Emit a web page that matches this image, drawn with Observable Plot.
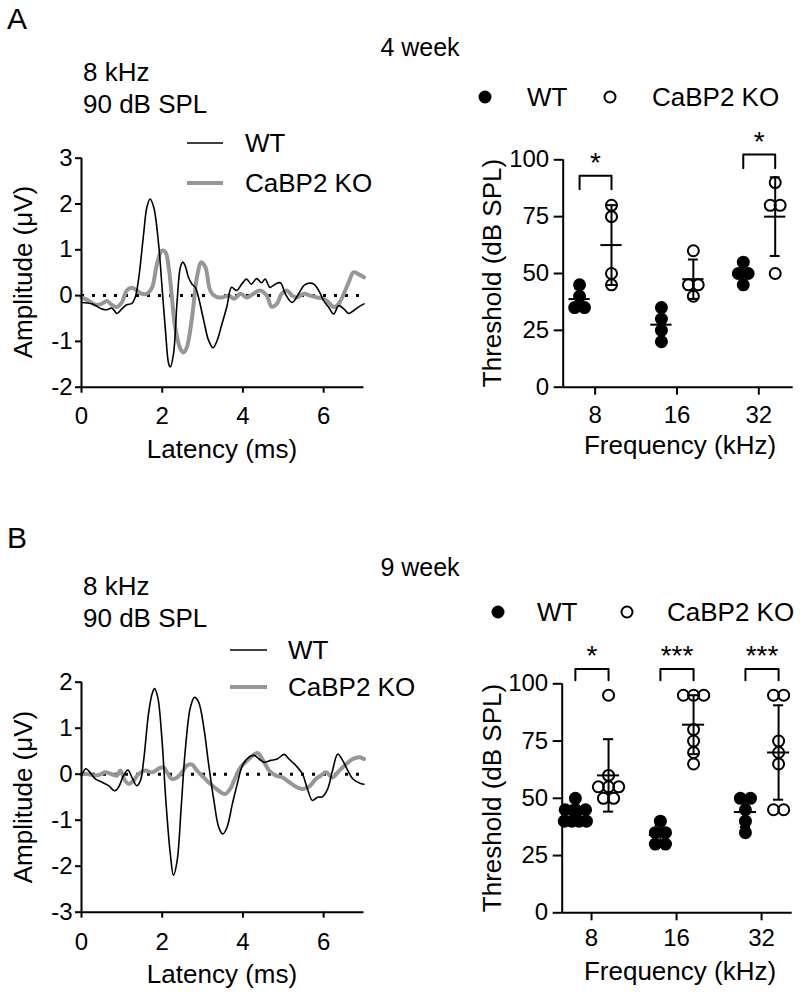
<!DOCTYPE html>
<html><head><meta charset="utf-8">
<script src="https://cdn.jsdelivr.net/npm/d3@7"></script>
<script src="https://cdn.jsdelivr.net/npm/@observablehq/plot@0.6"></script>
<style>
body{margin:0;background:#fff;}
#fig{position:relative;width:800px;height:997px;overflow:hidden;background:#fff;}
#fig svg{position:absolute;}
</style></head><body><div id="fig"></div>
<script>
const FONT = '"Liberation Sans", Arial, Helvetica, sans-serif';

// ---------- data ----------
const panelLetters = ["A", "B"];
const ages = ["4 week", "9 week"];
const stimulus = ["8 kHz", "90 dB SPL"];
const genotypes = ["WT", "CaBP2 KO"];
const freqs = ["8", "16", "32"];
const ampTicksA = [-2, -1, 0, 1, 2, 3];
const ampTicksB = [-3, -2, -1, 0, 1, 2];
const latTicks = [0, 2, 4, 6];
const thrTicks = [0, 25, 50, 75, 100];

// ABR waveforms [latency ms, amplitude µV]
const wave4WT = [[0,-0.15],[0.26,-0.18],[0.5,-0.29],[0.63,-0.31],[0.75,-0.27],[0.88,-0.39],[1.0,-0.29],[1.12,-0.2],[1.25,-0.17],[1.33,-0.04],[1.41,0.33],[1.54,1.35],[1.62,1.93],[1.70,2.11],[1.79,1.93],[1.91,1.13],[1.99,0.25],[2.08,-0.76],[2.16,-1.49],[2.2,-1.56],[2.28,-1.27],[2.37,-0.11],[2.45,0.62],[2.51,0.73],[2.57,0.65],[2.65,0.4],[2.74,0.25],[2.82,0.18],[2.9,-0.04],[3.03,-0.55],[3.15,-0.98],[3.26,-1.14],[3.36,-0.98],[3.48,-0.62],[3.6,-0.25],[3.72,0.18],[3.84,0.11],[3.97,0.25],[4.09,0.36],[4.21,0.25],[4.34,0.37],[4.46,0.28],[4.55,0.36],[4.67,0.18],[4.8,0.25],[4.93,0.28],[5.05,0.04],[5.22,-0.15],[5.38,0.04],[5.51,0.22],[5.63,0.27],[5.76,0.25],[5.88,0.11],[6.0,-0.11],[6.12,-0.25],[6.25,-0.4],[6.37,-0.22],[6.5,-0.29],[6.62,-0.39],[6.74,-0.33],[6.86,-0.25],[7.0,-0.18]];
const wave4KO = [[0,-0.04],[0.17,-0.11],[0.34,-0.2],[0.5,-0.18],[0.63,-0.12],[0.75,-0.2],[0.88,-0.25],[1.0,-0.15],[1.12,0.11],[1.25,0.17],[1.37,0.11],[1.5,0.04],[1.62,0.04],[1.75,0.18],[1.87,0.69],[1.99,0.98],[2.08,0.95],[2.16,0.62],[2.24,-0.04],[2.32,-0.69],[2.45,-1.16],[2.53,-1.24],[2.61,-1.13],[2.74,-0.47],[2.86,0.4],[2.97,0.73],[3.07,0.62],[3.19,0.11],[3.32,-0.02],[3.48,-0.04],[3.65,0],[3.78,-0.07],[3.94,0.04],[4.09,-0.04],[4.26,0.04],[4.42,0.11],[4.59,0],[4.71,-0.24],[4.84,-0.18],[4.96,0.04],[5.09,0.11],[5.22,0],[5.34,-0.04],[5.51,0.04],[5.67,0],[5.84,-0.04],[6.0,-0.07],[6.12,-0.15],[6.25,-0.25],[6.37,-0.18],[6.5,0.04],[6.62,0.29],[6.74,0.51],[6.86,0.47],[7.0,0.4]];
const wave9WT = [[0,-0.03],[0.11,0.12],[0.21,0.04],[0.34,-0.1],[0.5,-0.17],[0.67,-0.25],[0.82,-0.36],[0.92,-0.28],[1.04,-0.03],[1.15,0.09],[1.25,-0.07],[1.37,-0.25],[1.46,-0.14],[1.54,0.3],[1.66,1.31],[1.75,1.75],[1.81,1.86],[1.89,1.67],[1.99,0.8],[2.09,-0.57],[2.2,-1.73],[2.28,-2.2],[2.37,-1.88],[2.47,-0.72],[2.57,0.51],[2.7,1.46],[2.8,1.67],[2.9,1.57],[3.03,1.02],[3.15,0.22],[3.28,-0.57],[3.4,-1.15],[3.5,-1.3],[3.6,-1.17],[3.74,-0.64],[3.86,-0.21],[3.99,0.19],[4.15,0.37],[4.28,0.41],[4.4,0.33],[4.52,0.26],[4.69,0.3],[4.85,0.33],[5.02,0.43],[5.14,0.33],[5.31,0.19],[5.47,0.01],[5.6,-0.32],[5.72,-0.57],[5.85,-0.5],[5.97,-0.49],[6.1,-0.32],[6.22,0.08],[6.35,0.44],[6.47,0.3],[6.6,0.08],[6.72,-0.1],[6.93,-0.21],[7.0,-0.22]];
const wave9KO = [[0,0],[0.17,0],[0.34,-0.03],[0.46,-0.01],[0.58,0.04],[0.75,0],[0.88,-0.03],[0.96,0.08],[1.08,-0.14],[1.17,-0.21],[1.29,-0.14],[1.41,0],[1.58,0.08],[1.75,0.04],[1.91,0.12],[2.03,0.15],[2.12,0.04],[2.24,-0.1],[2.37,-0.07],[2.49,0.04],[2.61,0.19],[2.74,0.21],[2.86,0.08],[3.03,-0.07],[3.19,-0.21],[3.4,-0.36],[3.56,-0.43],[3.7,-0.3],[3.78,-0.14],[3.94,0.15],[4.11,0.3],[4.36,0.46],[4.48,0.33],[4.65,0.08],[4.82,-0.03],[4.98,-0.07],[5.14,-0.17],[5.31,-0.27],[5.47,-0.32],[5.64,-0.27],[5.81,-0.1],[5.93,-0.03],[6.06,0.04],[6.22,-0.07],[6.39,0.08],[6.56,0.22],[6.72,0.33],[6.89,0.37],[7.0,0.33]];

// ABR thresholds (dB SPL), one list per frequency (8, 16, 32 kHz)
const thr4WT = [[45,40,35,35],[35,30,25,20],[55,50,50,45]];
const thr4KO = [[80,75,50,45],[60,45,45,40],[90,80,80,50]];
const thr9WT = [[50,45,45,45,40,40,40,40],[40,35,35,30,30],[50,50,45,40,35]];
const thr9KO = [[95,60,55,55,55,50,50],[95,95,95,80,75,70,65],[95,95,75,70,65,45,45]];

// significance (per frequency) and bracket level (dB SPL)
const sig4 = ["*", "", "*"];
const sig4Level = [93, null, 102.3];
const sig9 = ["*", "***", "***"];
const sig9Level = [106.5, 106.5, 106.5];

// ---------- helpers ----------
const OFF = [-0.19, 0.2];
const fig = document.getElementById("fig");
const baseStyle = {fontFamily: FONT, fontSize: "24px", color: "black", background: "none", overflow: "visible"};

function place(svg, left, top) {
  svg.style.left = left + "px";
  svg.style.top = top + "px";
  fig.appendChild(svg);
}

function wavePlot(wt, ko, ticks, ydom, geo) {
  return Plot.plot({
    width: 400, height: geo.h,
    marginLeft: 81, marginRight: 36.5, marginTop: geo.mt, marginBottom: geo.mb,
    x: {domain: [0, 7], axis: null},
    y: {domain: ydom, axis: null},
    style: baseStyle,
    marks: [
      Plot.ruleY([0], {stroke: "black", strokeWidth: 3, strokeDasharray: "3,8"}),
      Plot.line(ko, {x: d => d[0], y: d => d[1], stroke: "#979797", strokeWidth: 4, curve: "catmull-rom"}),
      Plot.line(wt, {x: d => d[0], y: d => d[1], stroke: "black", strokeWidth: 1.6, curve: "catmull-rom"}),
      Plot.ruleX([0], {strokeWidth: 2}),
      Plot.ruleY([ydom[0]], {strokeWidth: 2}),
      Plot.axisY({ticks, tickSize: 6, tickPadding: 3, strokeWidth: 2, fontSize: 24, tickFormat: d => String(d), label: null}),
      Plot.axisX({ticks: latTicks, tickSize: 6, tickPadding: geo.xpad, strokeWidth: 2, fontSize: 24, tickFormat: d => String(d), label: null})
    ]
  });
}

function threshPlot(wt, ko, sig, sigLevel, geo) {
  const pts = [];
  const stats = [];
  [wt, ko].forEach((grp, g) => grp.forEach((vals, i) => {
    const counts = d3.rollup(vals, v => v.length, v => v);
    const seen = new Map();
    vals.forEach(v => {
      const n = counts.get(v), k = seen.get(v) || 0;
      seen.set(v, k + 1);
      const step = Math.min(0.12, 0.26 / Math.max(1, n - 1));
      pts.push({g, i, v, x: i + OFF[g] + (k - (n - 1) / 2) * step});
    });
    const m = d3.mean(vals), s = d3.deviation(vals);
    stats.push({g, i, x: i + OFF[g], m, lo: m - s, hi: m + s});
  }));
  const br = [], stars = [];
  sig.forEach((s, i) => {
    if (!s) return;
    const L = sigLevel[i];
    br.push({i, x: i + OFF[0], y: L - geo.drop}, {i, x: i + OFF[0], y: L}, {i, x: i + OFF[1], y: L}, {i, x: i + OFF[1], y: L - geo.drop});
    stars.push({i, s, x: i + (OFF[0] + OFF[1]) / 2, y: L + 5.7});
  });
  const CAP = 0.06, MEAN = 0.13;
  return Plot.plot({
    width: 400, height: geo.h,
    marginLeft: geo.ml, marginRight: geo.mr, marginTop: geo.mt, marginBottom: geo.mb,
    x: {domain: geo.xdom, axis: null},
    y: {domain: [0, 100], axis: null},
    style: baseStyle,
    marks: [
      Plot.ruleX([geo.xdom[0]], {strokeWidth: 2}),
      Plot.ruleY([0], {strokeWidth: 2}),
      Plot.axisY({ticks: thrTicks, tickSize: 9, tickPadding: 5, strokeWidth: 2, fontSize: 24, tickFormat: d => String(d), label: null}),
      Plot.axisX({ticks: [0, 1, 2], tickSize: 8, tickPadding: geo.xpad, strokeWidth: 2, fontSize: 24, tickFormat: i => freqs[i], label: null}),
      Plot.dot(pts, {x: "x", y: "v", r: 5.5, fill: d => d.g ? "none" : "black", stroke: "black", strokeWidth: 2}),
      Plot.ruleX(stats, {x: "x", y1: "lo", y2: "hi", strokeWidth: 2}),
      Plot.ruleY(stats, {y: "lo", x1: d => d.x - CAP, x2: d => d.x + CAP, strokeWidth: 2}),
      Plot.ruleY(stats, {y: "hi", x1: d => d.x - CAP, x2: d => d.x + CAP, strokeWidth: 2}),
      Plot.ruleY(stats, {y: "m", x1: d => d.x - MEAN, x2: d => d.x + MEAN, strokeWidth: 2}),
      Plot.line(br, {x: "x", y: "y", z: "i", stroke: "black", strokeWidth: 2}),
      Plot.text(stars, {x: "x", y: "y", text: "s", fontSize: 28, fill: "black"})
    ]
  });
}

// ---------- plots ----------
place(wavePlot(wave4WT, wave4KO, ampTicksA, [-2, 3], {h: 360, mt: 37.7, mb: 93.3, xpad: 14}), 0, 120);
place(threshPlot(thr4WT, thr4KO, sig4, sig4Level, {h: 360, ml: 162.7, mr: 7.3, mt: 39.3, mb: 93.3, xdom: [-0.39, 2.42], xpad: 11, drop: 6}), 400, 120);
place(wavePlot(wave9WT, wave9KO, ampTicksB, [-3, 2], {h: 357, mt: 41.7, mb: 85.3, xpad: 15}), 0, 640);
place(threshPlot(thr9WT, thr9KO, sig9, sig9Level, {h: 357, ml: 161.7, mr: 8.3, mt: 43.3, mb: 84.7, xdom: [-0.345, 2.36], xpad: 8, drop: 5}), 400, 640);

// ---------- text, titles and legends ----------
const ov = d3.select(fig).append("svg")
  .attr("width", 800).attr("height", 997)
  .style("left", "0px").style("top", "0px")
  .style("font-family", FONT);

function txt(s, x, y, size, anchor = "start", rot = false) {
  const t = ov.append("text").text(s)
    .attr("font-size", size).attr("text-anchor", anchor).attr("dy", "0.35em").attr("fill", "black");
  if (rot) t.attr("transform", `translate(${x},${y}) rotate(-90)`);
  else t.attr("x", x).attr("y", y);
}
function legLine(x1, x2, y, color, w) {
  ov.append("line").attr("x1", x1).attr("x2", x2).attr("y1", y).attr("y2", y).attr("stroke", color).attr("stroke-width", w);
}
function legDot(x, y, filled) {
  ov.append("circle").attr("cx", x).attr("cy", y).attr("r", 5.5)
    .attr("fill", filled ? "black" : "white").attr("stroke", "black").attr("stroke-width", 2);
}

// panel A
txt(panelLetters[0], 7, 18, 30);
txt(ages[0], 420, 47, 25, "middle");
txt(stimulus[0], 83, 72, 26);
txt(stimulus[1], 83, 104, 26);
legLine(187, 223, 143, "black", 1.6);
legLine(187, 223, 183, "#979797", 4);
txt(genotypes[0], 245, 143, 26);
txt(genotypes[1], 245, 183, 26);
legDot(485, 97, true);
legDot(610, 97, false);
txt(genotypes[0], 527, 97, 26);
txt(genotypes[1], 652, 97, 26);
txt("Latency (ms)", 222, 449, 26, "middle");
txt("Amplitude (μV)", 23, 272, 26, "middle", true);
txt("Frequency (kHz)", 680, 445, 26, "middle");
txt("Threshold (dB SPL)", 492, 273, 26, "middle", true);

// panel B
txt(panelLetters[1], 7, 537, 30);
txt(ages[1], 420, 567, 25, "middle");
txt(stimulus[0], 83, 586, 26);
txt(stimulus[1], 83, 618, 26);
legLine(230, 267, 650, "black", 1.6);
legLine(230, 267, 687, "#979797", 4);
txt(genotypes[0], 288, 650, 26);
txt(genotypes[1], 288, 687, 26);
legDot(498, 612, true);
legDot(627, 612, false);
txt(genotypes[0], 537, 612, 26);
txt(genotypes[1], 667, 612, 26);
txt("Latency (ms)", 222, 974, 26, "middle");
txt("Amplitude (μV)", 23, 797, 26, "middle", true);
txt("Frequency (kHz)", 680, 971, 26, "middle");
txt("Threshold (dB SPL)", 492, 798, 26, "middle", true);
</script></body></html>
